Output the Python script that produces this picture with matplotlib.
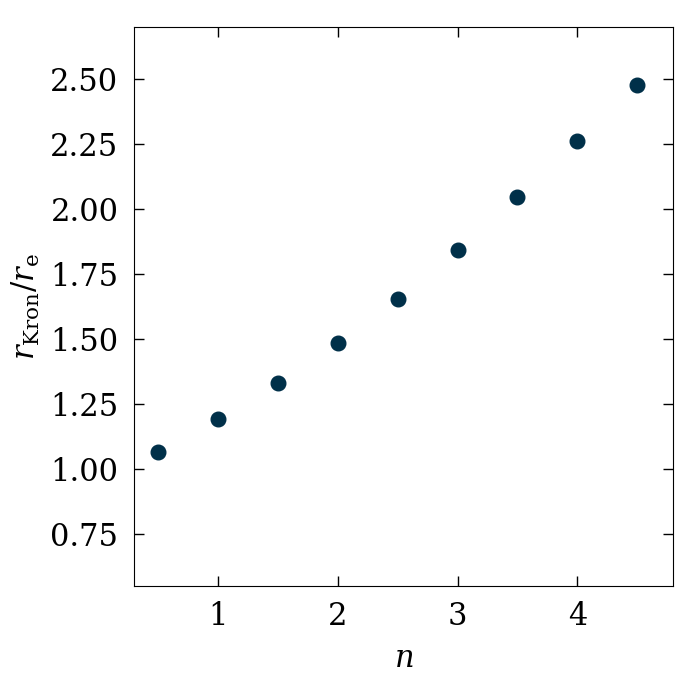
import matplotlib
matplotlib.use('Agg')
import matplotlib.pyplot as plt

# sersic index and kron radius ratio
n_vals = [0.5, 1.0, 1.5, 2.0, 2.5, 3.0, 3.5, 4.0, 4.5]
kron_ratio = [1.065, 1.192, 1.331, 1.485, 1.654, 1.842, 2.046, 2.262, 2.477]

plt.rcParams['font.family'] = 'DejaVu Serif'
plt.rcParams['mathtext.fontset'] = 'dejavuserif'
plt.rcParams['font.size'] = 22

fig = plt.figure(figsize=(7, 7), dpi=100)
ax = fig.add_axes([0.191, 0.163, 0.771, 0.799])

ax.plot(n_vals, kron_ratio, 'o', ms=10.5, color='#003049', ls='none')

ax.set_xlim(0.3, 4.8)
ax.set_ylim(0.55, 2.70)
ax.set_xticks([1, 2, 3, 4])
ax.set_yticks([0.75, 1.00, 1.25, 1.50, 1.75, 2.00, 2.25, 2.50])
ax.set_yticklabels(['%.2f' % v for v in [0.75, 1.00, 1.25, 1.50, 1.75, 2.00, 2.25, 2.50]])
ax.tick_params(direction='in', top=True, right=True, length=7, width=1, pad=11)

ax.set_xlabel(r'$n$', labelpad=8)
ax.set_ylabel(r'$r_{\rm Kron}/r_{\rm e}$', labelpad=6)

plt.savefig('out.png')
